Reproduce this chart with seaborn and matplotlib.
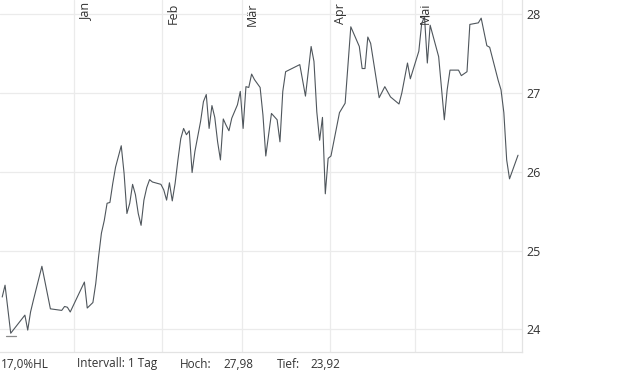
import matplotlib
matplotlib.use("Agg")
import matplotlib.pyplot as plt
import seaborn as sns
import pandas as pd

# ---- data ----
dates = [
    "2024-12-06", "2024-12-07", "2024-12-09", "2024-12-14", "2024-12-15", "2024-12-16",
    "2024-12-17", "2024-12-20", "2024-12-23", "2024-12-27", "2024-12-28", "2024-12-29",
    "2024-12-30", "2025-01-04", "2025-01-05", "2025-01-07", "2025-01-08", "2025-01-09",
    "2025-01-10", "2025-01-11", "2025-01-12", "2025-01-13", "2025-01-14", "2025-01-15",
    "2025-01-17", "2025-01-18", "2025-01-19", "2025-01-20", "2025-01-21", "2025-01-22",
    "2025-01-23", "2025-01-24", "2025-01-25", "2025-01-26", "2025-01-27", "2025-01-28",
    "2025-01-31", "2025-02-01", "2025-02-02", "2025-02-03", "2025-02-04", "2025-02-05",
    "2025-02-06", "2025-02-07", "2025-02-08", "2025-02-09", "2025-02-10", "2025-02-11",
    "2025-02-12", "2025-02-14", "2025-02-15", "2025-02-16", "2025-02-17", "2025-02-18",
    "2025-02-19", "2025-02-20", "2025-02-21", "2025-02-22", "2025-02-23", "2025-02-24",
    "2025-02-25", "2025-02-27", "2025-02-28", "2025-03-01", "2025-03-02", "2025-03-03",
    "2025-03-04", "2025-03-05", "2025-03-07", "2025-03-08", "2025-03-09", "2025-03-11",
    "2025-03-13", "2025-03-14", "2025-03-15", "2025-03-16", "2025-03-21", "2025-03-23",
    "2025-03-25", "2025-03-26", "2025-03-27", "2025-03-28", "2025-03-29", "2025-03-30",
    "2025-03-31", "2025-04-01", "2025-04-04", "2025-04-06", "2025-04-08", "2025-04-11",
    "2025-04-12", "2025-04-13", "2025-04-14", "2025-04-15", "2025-04-18", "2025-04-20",
    "2025-04-22", "2025-04-25", "2025-04-26", "2025-04-28", "2025-04-29", "2025-05-02",
    "2025-05-03", "2025-05-04", "2025-05-05", "2025-05-06", "2025-05-09", "2025-05-10",
    "2025-05-11", "2025-05-12", "2025-05-13", "2025-05-16", "2025-05-17", "2025-05-19",
    "2025-05-20", "2025-05-23", "2025-05-24", "2025-05-26", "2025-05-27", "2025-05-30",
    "2025-05-31", "2025-06-01", "2025-06-02", "2025-06-03", "2025-06-06",
]
prices = [
    24.41, 24.56, 23.95, 24.18, 23.99, 24.22,
    24.37, 24.80, 24.26, 24.24, 24.29, 24.28,
    24.22, 24.60, 24.27, 24.34, 24.58, 24.92,
    25.22, 25.38, 25.60, 25.61, 25.85, 26.06,
    26.33, 25.98, 25.47, 25.60, 25.84, 25.71,
    25.47, 25.32, 25.64, 25.80, 25.90, 25.87,
    25.84, 25.77, 25.64, 25.86, 25.63, 25.85,
    26.15, 26.42, 26.55, 26.47, 26.52, 25.99,
    26.26, 26.64, 26.89, 26.98, 26.55, 26.84,
    26.69, 26.38, 26.15, 26.67, 26.59, 26.52,
    26.68, 26.85, 27.02, 26.55, 27.08, 27.07,
    27.24, 27.17, 27.07, 26.72, 26.20, 26.74,
    26.66, 26.38, 27.02, 27.27, 27.36, 26.96,
    27.59, 27.40, 26.76, 26.40, 26.69, 25.72,
    26.17, 26.20, 26.75, 26.87, 27.84, 27.59,
    27.31, 27.31, 27.71, 27.63, 26.94, 27.08,
    26.95, 26.86, 27.00, 27.38, 27.18, 27.53,
    27.88, 27.97, 27.38, 27.86, 27.46, 27.06,
    26.66, 27.04, 27.29, 27.29, 27.22, 27.27,
    27.87, 27.89, 27.95, 27.60, 27.58, 27.16,
    27.04, 26.75, 26.15, 25.91, 26.21,
]
month_starts = ["2025-01-01", "2025-02-01", "2025-03-01", "2025-04-01", "2025-05-01", "2025-06-01"]
month_labels = ["Jan", "Feb", "Mär", "Apr", "Mai", ""]
y_ticks = [24, 25, 26, 27, 28]
y_labels = ["24", "25", "26", "27", "28"]
high_value, high_date = 27.98, "2025-05-04"
low_value, low_date = 23.92, "2024-12-09"
footer = [("17,0%HL", 1), ("Intervall: 1 Tag", 77), ("Hoch:", 180), ("27,98", 223),
          ("Tief:", 277), ("23,92", 310)]

# ---- styling ----
sns.set_theme(style="white")
plt.rcParams["font.family"] = ["Open Sans", "DejaVu Sans"]
text_color = "#333333"
grid_color = "#ebebeb"
line_color = "#4f565c"

df = pd.DataFrame({"date": pd.to_datetime(dates) + pd.Timedelta(hours=12), "price": prices})

W, H = 620, 372
fig = plt.figure(figsize=(W / 100, H / 100), dpi=100)
ax = fig.add_axes([0, 1 - 352 / H, 521.7 / W, 352 / H])

sns.lineplot(data=df, x="date", y="price", ax=ax, color=line_color, linewidth=0.8)

# high / low markers
half = pd.Timedelta(hours=42)
for d, v in [(high_date, high_value), (low_date, low_value)]:
    dd = pd.Timestamp(d) + pd.Timedelta(hours=12)
    ax.plot([dd - half, dd + half], [v, v], color="#8a8a8a", linewidth=0.9)

ax.set_xlim(pd.Timestamp("2024-12-05 17:15"), pd.Timestamp("2025-06-07 19:10"))
ax.set_ylim(23.712, 28.18)

ms = pd.to_datetime(month_starts)
ax.set_xticks(ms)
ax.set_xticklabels([])
ax.set_yticks(y_ticks)
ax.yaxis.tick_right()
ax.set_yticklabels(y_labels, fontsize=9, color=text_color)
ax.tick_params(axis="both", length=0)
ax.tick_params(axis="y", pad=3.6)
ax.set_xlabel("")
ax.set_ylabel("")
ax.grid(True, color=grid_color, linewidth=0.9)
ax.set_axisbelow(True)
for s in ["left", "top"]:
    ax.spines[s].set_visible(False)
for s in ["right", "bottom"]:
    ax.spines[s].set_color("#e3e3e3")
    ax.spines[s].set_linewidth(0.9)

for d, lab in zip(ms, month_labels):
    if lab:
        ax.annotate(lab, xy=(d, 1), xycoords=("data", "axes fraction"),
                    xytext=(3.2, -2), textcoords="offset points",
                    rotation=90, ha="left", va="top", fontsize=9, color=text_color)

for txt, xpx in footer:
    fig.text(xpx / W, 4.5 / H, txt, fontsize=8.5, color=text_color, ha="left", va="baseline")

fig.savefig("out.png", dpi=100)
